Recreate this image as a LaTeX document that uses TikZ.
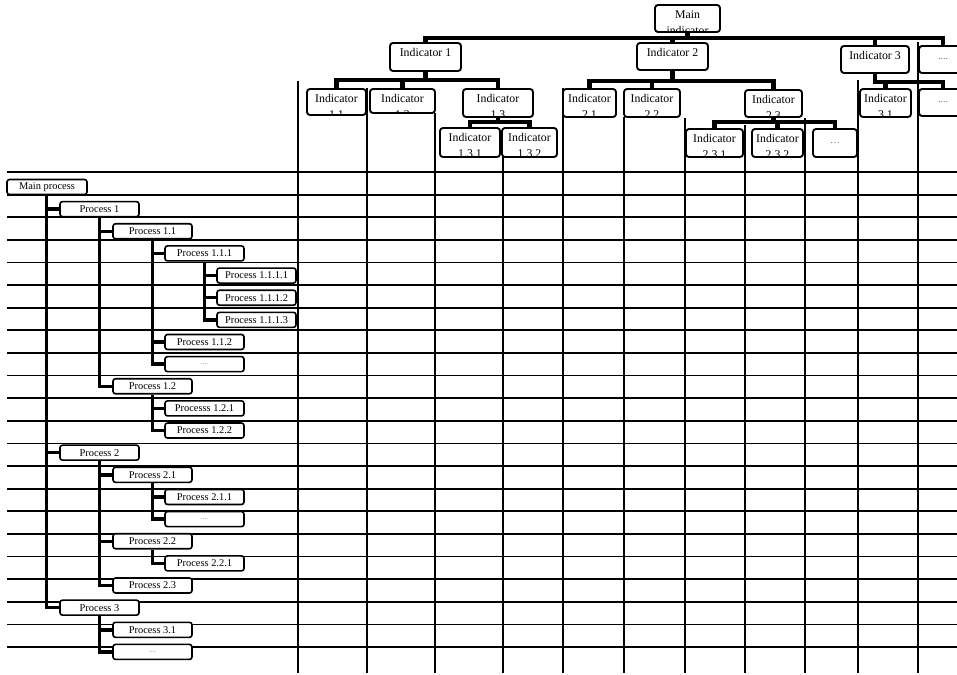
\documentclass[tikz,border=0pt]{standalone}
\usepackage{fontspec}
\setmainfont{Liberation Serif}
\usetikzlibrary{calc,backgrounds}
\tikzset{
 pbox/.style={draw, line width=1.6pt, rounded corners=2.5pt, fill=white, minimum width=79pt, minimum height=15pt, inner sep=0pt, font=\fontsize{10.4}{12}\selectfont},
 ibox/.style={draw, line width=1.9pt, rounded corners=3pt, fill=white, inner sep=0pt},
 itx/.style={inner sep=0pt, font=\fontsize{11.8}{14}\selectfont},
 gridline/.style={line width=1.8pt},
 tree/.style={line width=3.4pt},
 ibar/.style={line width=4.2pt},
 pdots/.style={font=\fontsize{7}{8}\selectfont, text=black!55},
 idots/.style={font=\fontsize{10}{12}\selectfont, text=black!60}
}
\newcommand\itext[3]{%
 \begin{scope}
 \clip[rounded corners=2pt] ([shift={(2pt,2pt)}]#1.south west) rectangle ([shift={(-2pt,-2pt)}]#1.north east);
 \node[itx, anchor=base] (#1a) at ([yshift=-14pt]#1.north) {#2};
 \node[itx, anchor=base] (#1b) at ([yshift=-30pt]#1.north) {#3};
 \end{scope}}
\begin{document}
\begin{tikzpicture}[x=1pt,y=-1pt]
\useasboundingbox (0,0) rectangle (957,674);

\coordinate (b0) at (0,38);
\coordinate (b1) at (0,80);
\coordinate (b2) at (0,81);
\coordinate (b3) at (0,82);
\coordinate (b4) at (0,122);

% indicator nodes
\node[ibox, minimum width=65pt, minimum height=27pt] (M) at (687.5,18.5) {};
\node[ibox, minimum width=71pt, minimum height=28pt] (I1) at (425.5,57) {};
\node[ibox, minimum width=71pt, minimum height=27pt] (I2) at (672.5,56.5) {};
\node[ibox, minimum width=68pt, minimum height=27pt] (I3) at (875,59.5) {};
\node[ibox, minimum width=48pt, minimum height=27pt, idots] (Id) at (943,59.5) {....};
\node[ibox, minimum width=59pt, minimum height=26pt] (I11) at (336.5,102) {};
\node[ibox, minimum width=65pt, minimum height=24pt] (I12) at (402.5,101) {};
\node[ibox, minimum width=70pt, minimum height=28pt] (I13) at (498,103) {};
\node[ibox, minimum width=60pt, minimum height=29pt] (I131) at (470,142.5) {};
\node[ibox, minimum width=55pt, minimum height=29pt] (I132) at (529.5,142.5) {};
\node[ibox, minimum width=53pt, minimum height=28pt] (I21) at (589.5,103) {};
\node[ibox, minimum width=56pt, minimum height=28pt] (I22) at (652,103) {};
\node[ibox, minimum width=57pt, minimum height=27pt] (I23) at (773.5,103.5) {};
\node[ibox, minimum width=57pt, minimum height=28pt] (I231) at (714.5,143) {};
\node[ibox, minimum width=51pt, minimum height=28pt] (I232) at (777.5,143) {};
\node[ibox, minimum width=44pt, minimum height=28pt, idots] (I23d) at (835,143) {…};
\node[ibox, minimum width=51pt, minimum height=28pt] (I31) at (885.5,103) {};
\node[ibox, minimum width=48pt, minimum height=27pt, idots] (I3d) at (943,102.5) {....};

\itext{M}{Main}{indicator}
\itext{I1}{Indicator 1}{}
\itext{I2}{Indicator 2}{}
\itext{I3}{Indicator 3}{}
\itext{I11}{Indicator}{1.1}
\itext{I12}{Indicator}{1.2}
\itext{I13}{Indicator}{1.3}
\itext{I131}{Indicator}{1.3.1}
\itext{I132}{Indicator}{1.3.2}
\itext{I21}{Indicator}{2.1}
\itext{I22}{Indicator}{2.2}
\itext{I23}{Indicator}{2.3}
\itext{I231}{Indicator}{2.3.1}
\itext{I232}{Indicator}{2.3.2}
\itext{I31}{Indicator}{3.1}

% process nodes
\node[pbox, minimum width=80pt] (p0) at (47,187) {Main process};
\node[pbox] (p1) at (99.5,209.14) {Process 1};
\node[pbox] (p11) at (152.5,231.28) {Process 1.1};
\node[pbox] (p111) at (204.5,253.42) {Process 1.1.1};
\node[pbox] (p1111) at (256.5,275.56) {Process 1.1.1.1};
\node[pbox] (p1112) at (256.5,297.7) {Process 1.1.1.2};
\node[pbox] (p1113) at (256.5,319.84) {Process 1.1.1.3};
\node[pbox] (p112) at (204.5,341.98) {Process 1.1.2};
\node[pbox, pdots] (p113) at (204.5,364.12) {....};
\node[pbox] (p12) at (152.5,386.26) {Process 1.2};
\node[pbox] (p121) at (204.5,408.4) {Processs 1.2.1};
\node[pbox] (p122) at (204.5,430.54) {Process 1.2.2};
\node[pbox] (p2) at (99.5,452.68) {Process 2};
\node[pbox] (p21) at (152.5,474.82) {Process 2.1};
\node[pbox] (p211) at (204.5,496.96) {Process 2.1.1};
\node[pbox, pdots] (p212) at (204.5,519.1) {....};
\node[pbox] (p22) at (152.5,541.24) {Process 2.2};
\node[pbox] (p221) at (204.5,563.38) {Process 2.2.1};
\node[pbox] (p23) at (152.5,585.52) {Process 2.3};
\node[pbox] (p3) at (99.5,607.66) {Process 3};
\node[pbox] (p31) at (152.5,629.8) {Process 3.1};
\node[pbox, pdots] (p32) at (152.5,651.94) {....};

\begin{scope}[on background layer]
% grid
\foreach \j in {0,...,21} \draw[gridline] (7,{172+22.62*\j}) -- (957,{172+22.62*\j});
\foreach \x/\y in {298/81, 367/88, 435/113, 503/157, 563/88, 624/117, 685/118, 745/125, 805/118, 858/80, 918/42}
  \draw[gridline] (\x,\y) -- (\x,673);

% indicator connectors
\foreach \c in {I1,I2,I3,Id} \draw[ibar] (M.south) |- (\c.north |- b0) -- (\c.north);
\foreach \c in {I11,I12,I13} \draw[ibar] (I1.south) |- (\c.north |- b1) -- (\c.north);
\foreach \c in {I21,I22,I23} \draw[ibar] (I2.south) |- (\c.north |- b2) -- (\c.north);
\foreach \c in {I31,I3d} \draw[ibar] (I3.south) |- (\c.north |- b3) -- (\c.north);
\foreach \c in {I131,I132} \draw[ibar] (I13.south) |- (\c.north |- b4) -- (\c.north);
\foreach \c in {I231,I232,I23d} \draw[ibar] (I23.south) |- (\c.north |- b4) -- (\c.north);

% process tree connectors
\foreach \p/\c in {p0/p1, p0/p2, p0/p3, p1/p11, p1/p12, p11/p111, p11/p112, p11/p113,
  p111/p1111, p111/p1112, p111/p1113, p12/p121, p12/p122, p2/p21, p2/p22, p2/p23,
  p21/p211, p21/p212, p22/p221, p3/p31, p3/p32}
  \draw[tree] ([xshift=40pt]\p.south west) |- (\c.west);
\end{scope}
\end{tikzpicture}
\end{document}
